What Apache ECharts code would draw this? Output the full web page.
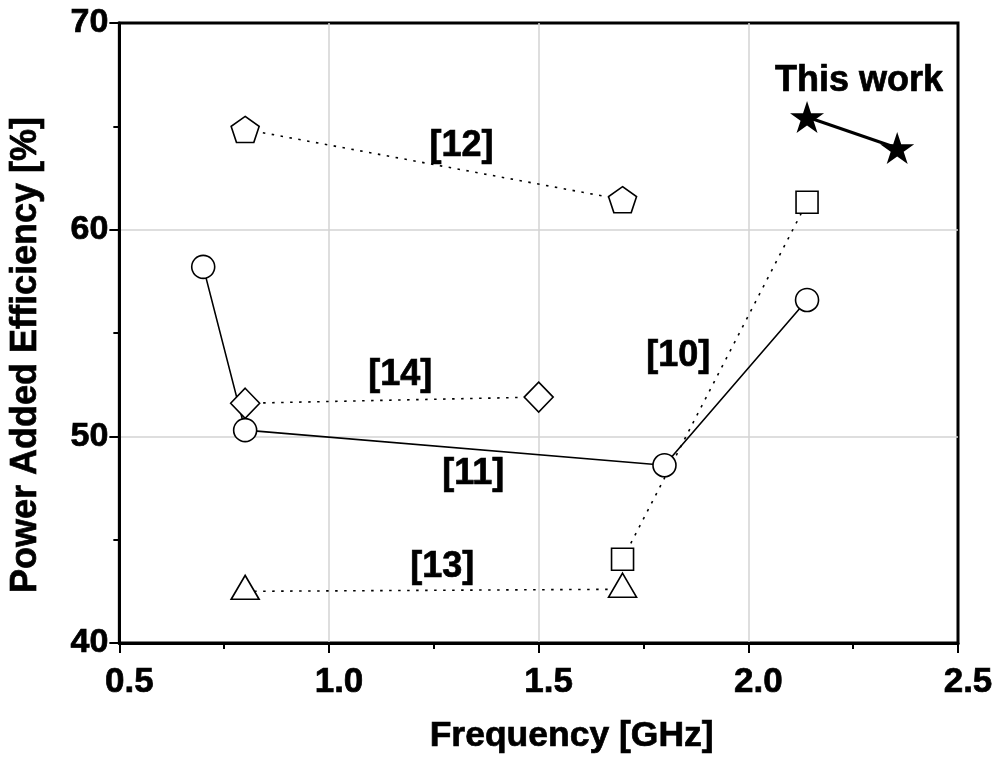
<!DOCTYPE html>
<html>
<head>
<meta charset="utf-8">
<script src="https://cdn.jsdelivr.net/npm/echarts@6/dist/echarts.min.js"></script>
<style>
html,body{margin:0;padding:0;background:#fff;}
#chart{width:1001px;height:765px;}
</style>
</head>
<body>
<div id="chart"></div>
<script>
// ---- data ----
const ref10X = [1.7, 2.14];
const ref10Y = [44.05, 61.33];
const ref11X = [0.7, 0.8, 1.8, 2.14];
const ref11Y = [58.2, 50.3, 48.6, 56.6];
const ref12X = [0.8, 1.7];
const ref12Y = [64.85, 61.45];
const ref13X = [0.8, 1.7];
const ref13Y = [42.5, 42.6];
const ref14X = [0.8, 1.5];
const ref14Y = [51.6, 51.9];
const thisWorkX = [2.14, 2.355];
const thisWorkY = [65.45, 63.95];

const noteTexts = ['This work', '[12]', '[14]', '[11]', '[10]', '[13]'];
const noteX = [2.264, 1.316, 1.17, 1.344, 1.833, 1.27];
const noteY = [67.2, 64.05, 52.97, 48.16, 53.9, 43.68];

const xTicks = [0.5, 1.0, 1.5, 2.0, 2.5];
const yTicks = [40, 50, 60, 70];

// ---- helpers ----
const zip = (xs, ys) => xs.map((x, i) => [x, ys[i]]);
const FONT = "'Liberation Sans', Arial, Helvetica, sans-serif";
const PENTAGON = 'path://M0,-10 L9.511,-3.09 L5.878,8.09 L-5.878,8.09 L-9.511,-3.09 Z';
const STAR = 'path://M0,-10 L2.245,-3.09 L9.511,-3.09 L3.633,1.18 L5.878,8.09 L0,3.82 L-5.878,8.09 L-3.633,1.18 L-9.511,-3.09 L-2.245,-3.09 Z';
const DOT = [2.5, 6.5];
const BOLDEN = {textBorderColor: '#000', textBorderWidth: 0.7};

const markerStyle = {color: '#fff', borderColor: '#000', borderWidth: 1.6};

function lineSeries(name, data, symbol, size, dashed, extra) {
  return Object.assign({
    name: name,
    type: 'line',
    data: data,
    symbol: symbol,
    symbolSize: size,
    showAllSymbol: true,
    lineStyle: {color: '#000', width: 1.6, type: dashed ? DOT : 'solid'},
    itemStyle: markerStyle,
    emphasis: {disabled: true},
    animation: false
  }, extra || {});
}

const chart = echarts.init(document.getElementById('chart'), null, {renderer: 'canvas'});

const axisCommon = {
  type: 'value',
  axisLine: {show: true, lineStyle: {color: '#000', width: 3}},
  axisTick: {show: true, inside: false, length: 10, lineStyle: {color: '#000', width: 2}},
  minorTick: {show: true, splitNumber: 2, length: 6, lineStyle: {color: '#000', width: 2}},
  splitLine: {show: true, showMinLine: false, showMaxLine: false, lineStyle: {color: '#d3d3d3', width: 1.5}},
  nameLocation: 'middle'
};

chart.setOption({
  backgroundColor: '#fff',
  animation: false,
  grid: {left: 119, right: 43, top: 23, bottom: 122, show: true, borderColor: '#000', borderWidth: 3, backgroundColor: 'transparent'},
  xAxis: Object.assign({}, axisCommon, {
    min: xTicks[0], max: xTicks[xTicks.length - 1], interval: 0.5,
    name: 'Frequency [GHz]', nameGap: 75,
    nameTextStyle: Object.assign({fontFamily: FONT, fontWeight: 'bold', fontSize: 35.5, color: '#000', padding: [0, 0, 0, 66]}, BOLDEN),
    axisLabel: Object.assign({margin: 22, fontFamily: FONT, fontWeight: 'bold', fontSize: 35, color: '#000',
      padding: [0, 0, 0, 20], formatter: v => v.toFixed(1)}, BOLDEN)
  }),
  yAxis: Object.assign({}, axisCommon, {
    min: yTicks[0], max: yTicks[yTicks.length - 1], interval: 10,
    name: 'Power Added Efficiency [%]', nameGap: 75,
    nameTextStyle: Object.assign({fontFamily: FONT, fontWeight: 'bold', fontSize: 36, color: '#000', padding: [0, 44, 0, 0]}, BOLDEN),
    axisLabel: Object.assign({margin: 11, fontFamily: FONT, fontWeight: 'bold', fontSize: 34, color: '#000'}, BOLDEN)
  }),
  series: [
    lineSeries('[12]', zip(ref12X, ref12Y), PENTAGON, [28, 26], true),
    lineSeries('[14]', zip(ref14X, ref14Y), 'diamond', [29, 30], true),
    lineSeries('[13]', zip(ref13X, ref13Y), 'triangle', [28, 24], true, {symbolOffset: [0, -4]}),
    lineSeries('[10]', zip(ref10X, ref10Y), 'rect', [22, 22], true),
    lineSeries('[11]', zip(ref11X, ref11Y), 'circle', 23, false),
    lineSeries('This work', zip(thisWorkX, thisWorkY), STAR, [34, 32], false, {
      lineStyle: {color: '#000', width: 3, type: 'solid'},
      itemStyle: {color: '#000', borderColor: '#000', borderWidth: 0}
    }),
    {
      name: 'notes',
      type: 'scatter',
      symbolSize: 1,
      itemStyle: {color: '#fff', opacity: 0},
      silent: true,
      data: noteTexts.map((t, i) => ({name: t, value: [noteX[i], noteY[i]]})),
      label: Object.assign({show: true, position: 'inside', formatter: '{b}', opacity: 1,
        fontFamily: FONT, fontWeight: 'bold', fontSize: 36, color: '#000'}, BOLDEN),
      animation: false
    }
  ]
});
</script>
</body>
</html>
